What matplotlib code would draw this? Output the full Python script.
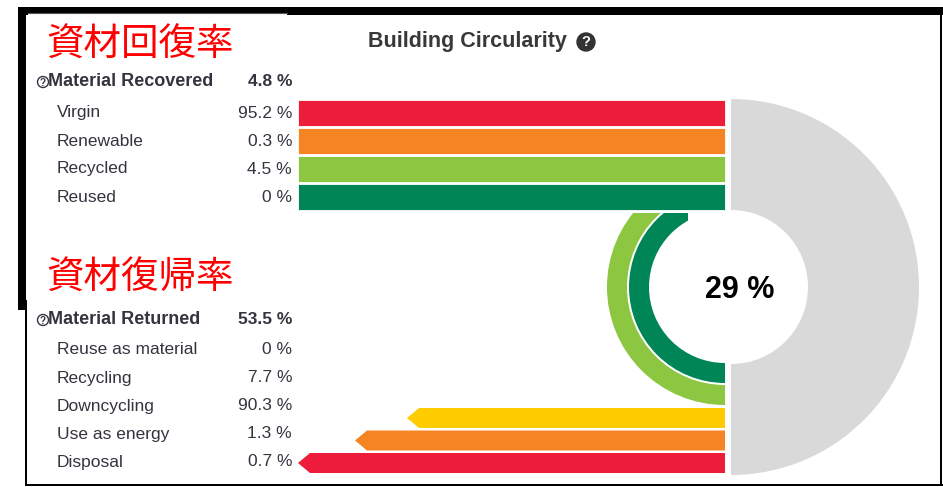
# Grafica de circularidad de un edificio: barras de material recuperado,
# flechas de material retornado y medio anillo con el porcentaje total

import matplotlib.pyplot as plt
from matplotlib.patches import Wedge, Rectangle, Polygon, Circle

# datos
circularity = 29

recovered_title = "Material Recovered"
recovered_total = 4.8
recovered_labels = ["Virgin", "Renewable", "Recycled", "Reused"]
recovered_values = [95.2, 0.3, 4.5, 0]

returned_title = "Material Returned"
returned_total = 53.5
returned_labels = ["Reuse as material", "Recycling", "Downcycling", "Use as energy", "Disposal"]
returned_values = [0, 7.7, 90.3, 1.3, 0.7]

# colores
RED = "#ee1c3b"
ORANGE = "#f58522"
LIGHT_GREEN = "#8dc641"
DARK_GREEN = "#008556"
YELLOW = "#ffcc00"
GRAY = "#d9d9d9"
TEXT = "#34343f"

recovered_colors = [RED, ORANGE, LIGHT_GREEN, DARK_GREEN]
# flechas inferiores: Downcycling, Use as energy, Disposal
arrow_colors = [YELLOW, ORANGE, RED]

plt.rcParams["font.family"] = ["Liberation Sans", "DejaVu Sans"]
JP = ["Noto Sans CJK JP", "DejaVu Sans"]

# figura en pixeles
fig = plt.figure(figsize=(9.43, 4.87), dpi=100)
ax = fig.add_axes([0, 0, 1, 1])
ax.set_xlim(0, 943)
ax.set_ylim(487, 0)
ax.axis("off")

# marco negro de la captura
ax.add_patch(Rectangle((18, 7), 925, 8, color="black", lw=0))
ax.add_patch(Rectangle((18, 7), 8, 303, color="black", lw=0))
ax.add_patch(Rectangle((24.5, 300), 2, 186, color="black", lw=0))
ax.add_patch(Rectangle((24.5, 484), 918, 2, color="black", lw=0))
ax.add_patch(Rectangle((940, 7), 2, 479, color="black", lw=0))
ax.add_patch(Rectangle((28, 12.5), 259, 50, facecolor="white", edgecolor="none"))
ax.plot([28, 287], [12.8, 12.8], color="#555555", lw=0.8)

# titulo
ax.text(368, 42, "Building Circularity", fontsize=15.5, fontweight="bold",
        color="#383838", ha="left", va="center")
ax.add_patch(Circle((586, 42), 9, color="#333333"))
ax.text(586, 42.5, "?", fontsize=10.5, fontweight="bold", color="white",
        ha="center", va="center")

# etiquetas en japones
ax.text(46, 45, "資材回復率", fontsize=27, color="#ff0000",
        family=JP, ha="left", va="center")
ax.text(46, 278, "資材復帰率", fontsize=27, color="#ff0000",
        family=JP, ha="left", va="center")

LABEL_X = 57
VALUE_X = 292
BAR_LEFT = 298
BAR_RIGHT = 725


def header(y, title, total):
    ax.add_patch(Circle((43, y), 5.5, facecolor="white", edgecolor=TEXT, lw=1))
    ax.text(43, y + 0.5, "?", fontsize=7, fontweight="bold", color=TEXT,
            ha="center", va="center")
    ax.text(48.5, y, title, fontsize=13, fontweight="bold", color=TEXT,
            ha="left", va="center")
    ax.text(VALUE_X, y, f"{total:g} %", fontsize=12.5, fontweight="bold",
            color=TEXT, ha="right", va="center")


def rows(y0, step, labels, values):
    for i, (lab, val) in enumerate(zip(labels, values)):
        y = y0 + i * step
        ax.text(LABEL_X, y, lab, fontsize=12.5, color=TEXT, ha="left", va="center")
        ax.text(VALUE_X, y, f"{val:g} %", fontsize=12.5, color=TEXT,
                ha="right", va="center")


# bloque superior
header(82, recovered_title, recovered_total)
rows(113, 28, recovered_labels, recovered_values)

top_y = [113 + i * 28 for i in range(len(recovered_labels))]
ax.barh(top_y, BAR_RIGHT - BAR_LEFT, left=BAR_LEFT, height=26,
        color=recovered_colors, edgecolor="#ffffff", linewidth=0.6)

# bloque inferior
header(320, returned_title, returned_total)
rows(350, 28, returned_labels, returned_values)

# flechas hacia la izquierda
arrow_tips = [407, 355, 298]
for i, (tip, col) in enumerate(zip(arrow_tips, arrow_colors)):
    yc = 418 + i * 22.5
    h = 10
    body = tip + 12
    pts = [(BAR_RIGHT, yc - h), (body, yc - h), (tip, yc),
           (body, yc + h), (BAR_RIGHT, yc + h)]
    ax.add_patch(Polygon(pts, closed=True, facecolor=col, edgecolor="none"))

# medio anillo gris
ax.add_patch(Wedge((731, 287), 188, -90, 90, width=111, facecolor=GRAY,
                   edgecolor="none"))

# arcos verdes a la izquierda
clip_light = Rectangle((560, 213), 170, 220, transform=ax.transData)
clip_dark = Polygon([(560, 213), (688, 213), (688, 245), (730, 245),
                     (730, 433), (560, 433)], closed=True, transform=ax.transData)
w_light = Wedge((725, 287), 118, 90, 270, width=20, facecolor=LIGHT_GREEN,
                edgecolor="none")
w_dark = Wedge((725, 287), 96, 90, 270, width=20, facecolor=DARK_GREEN,
               edgecolor="none")
ax.add_patch(w_light)
ax.add_patch(w_dark)
w_light.set_clip_path(clip_light)
w_dark.set_clip_path(clip_dark)

# porcentaje central
ax.text(740, 290, f"{circularity} %", fontsize=22, fontweight="bold",
        color="black", ha="center", va="center")

plt.savefig("out.png", dpi=100)
